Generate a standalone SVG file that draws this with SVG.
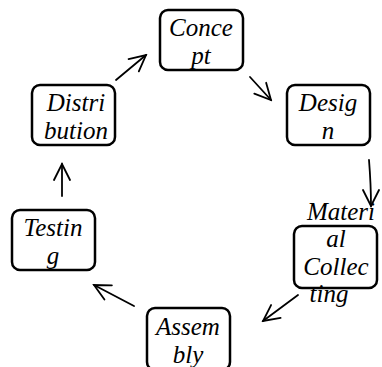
<svg xmlns="http://www.w3.org/2000/svg" width="382" height="367" viewBox="0 0 382 367">
<defs>
<style>
.box{fill:#fff;stroke:#000;stroke-width:2.5}
.t{font-family:'Liberation Serif','Times New Roman','DejaVu Serif',serif;font-style:italic;font-size:25px;fill:#000;text-anchor:middle}
.c{fill:none;stroke:#000;stroke-width:1.8;stroke-linecap:round}
</style>
<marker id="ah" viewBox="0 0 20 20" refX="18" refY="10" markerWidth="20" markerHeight="20" markerUnits="userSpaceOnUse" orient="auto">
<path d="M2,2 L18,10 L2,18" fill="none" stroke="#000" stroke-width="1.8" stroke-linecap="round"/>
</marker>
</defs>
<rect width="382" height="367" fill="#fff"/>
<g id="connectors">
<line class="c" x1="250" y1="77" x2="271" y2="100" marker-end="url(#ah)"/>
<path class="c" d="M369,160 Q371,185 371,206" marker-end="url(#ah)"/>
<line class="c" x1="298" y1="295" x2="263" y2="321" marker-end="url(#ah)"/>
<line class="c" x1="134" y1="306" x2="94" y2="285" marker-end="url(#ah)"/>
<line class="c" x1="62" y1="196" x2="62" y2="164" marker-end="url(#ah)"/>
<line class="c" x1="116" y1="80" x2="146" y2="55" marker-end="url(#ah)"/>
</g>
<g id="concept">
<rect class="box" x="160" y="10" width="83" height="60" rx="8"/>
<text class="t" x="201" y="36">Conce</text>
<text class="t" x="201" y="64">pt</text>
</g>
<g id="design">
<rect class="box" x="287" y="85" width="83" height="60" rx="8"/>
<text class="t" x="328" y="111">Desig</text>
<text class="t" x="328" y="139">n</text>
</g>
<g id="material">
<rect class="box" x="294" y="226" width="83" height="62" rx="8"/>
<text class="t" x="341" y="220">Materi</text>
<text class="t" x="336" y="247">al</text>
<text class="t" x="336" y="275">Collec</text>
<text class="t" x="329" y="302">ting</text>
</g>
<g id="assembly">
<rect class="box" x="147" y="308" width="83" height="62" rx="8"/>
<text class="t" x="188" y="335">Assem</text>
<text class="t" x="188" y="363">bly</text>
</g>
<g id="testing">
<rect class="box" x="12" y="210" width="83" height="60" rx="8"/>
<text class="t" x="53" y="236">Testin</text>
<text class="t" x="53" y="264">g</text>
</g>
<g id="distribution">
<rect class="box" x="32" y="85" width="83" height="60" rx="8"/>
<text class="t" x="76" y="111">Distri</text>
<text class="t" x="76" y="139">bution</text>
</g>
</svg>
